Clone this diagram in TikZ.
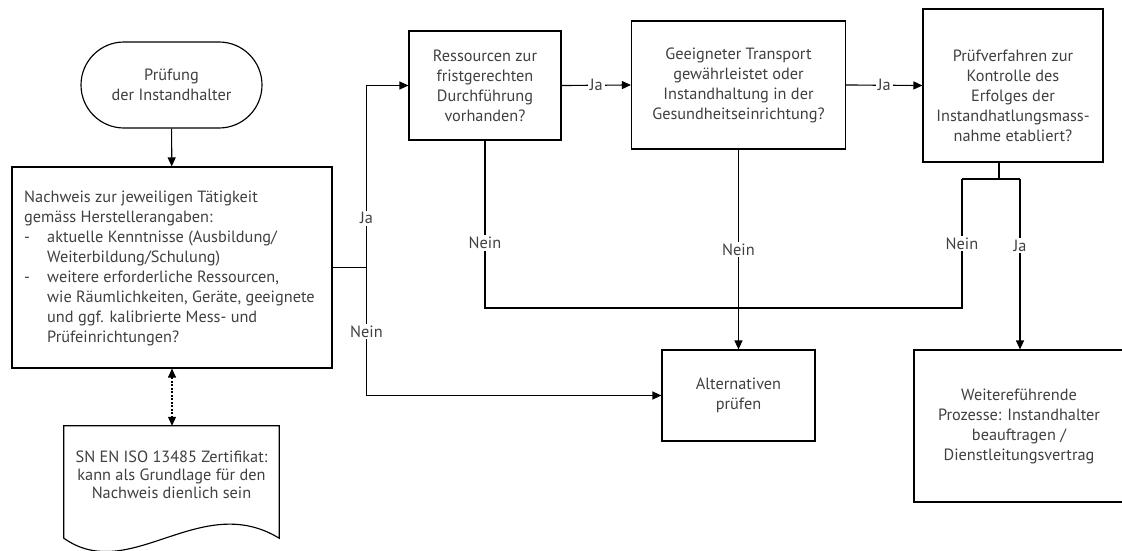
\documentclass[tikz,border=0pt]{standalone}
\usepackage{fontspec}
\setmainfont{PT Sans}
\usetikzlibrary{arrows.meta,calc}
\definecolor{txtc}{HTML}{404040}
\begin{document}
\begin{tikzpicture}[x=1pt,y=-1pt,
  every node/.style={font=\fontsize{16.3}{20}\selectfont, text=txtc},
  box/.style={draw=black, line width=1.15pt, fill=white, inner sep=0pt, align=center},
  plain/.style={inner sep=0pt, align=center},
  ln/.style={line width=1.15pt},
  arr/.style={line width=1.15pt, -{Triangle[length=9pt,width=8pt]}},
  lbl/.style={fill=white, inner sep=2pt}]
\useasboundingbox (0,0) rectangle (1122,551);
\fill[white] (0,0) rectangle (1122,551);

% nodes
\node[box, rounded corners=43pt, minimum width=181pt, minimum height=86pt] (term) at (171.5,85) {Prüfung\\der Instandhalter};
\node[box, minimum width=320pt, minimum height=201pt] (nach) at (172,267.5) {};
\node[plain, align=left, anchor=west] (nacht) at (24,268) {Nachweis zur jeweiligen Tätigkeit\\
gemäss Herstellerangaben:\\
\makebox[23pt][l]{-}aktuelle Kenntnisse (Ausbildung/\\
\hspace*{23pt}Weiterbildung/Schulung)\\
\makebox[23pt][l]{-}weitere erforderliche Ressourcen,\\
\hspace*{23pt}wie Räumlichkeiten, Geräte, geeignete\\
\hspace*{23pt}und ggf. kalibrierte Mess- und\\
\hspace*{23pt}Prüfeinrichtungen?};

\node[plain, minimum width=215pt, minimum height=112pt] (doc) at (171.5,482) {};
\draw[ln, fill=white] (doc.south west) -- (doc.north west) -- (doc.north east) -- (doc.south east)
  .. controls (200,490) and (130,585) .. (doc.south west) -- cycle;
\node[plain, font=\fontsize{16.3}{18}\selectfont] (doct) at (171.5,475) {SN EN ISO 13485 Zertifikat:\\kann als Grundlage für den\\Nachweis dienlich sein};

\node[box, minimum width=152pt, minimum height=109pt] (res) at (485,85.5) {Ressourcen zur\\fristgerechten\\Durchführung\\vorhanden?};
\node[box, minimum width=214pt, minimum height=128pt] (gee) at (738.5,85) {Geeigneter Transport\\gewährleistet oder\\Instandhaltung in der\\Gesundheitseinrichtung?};
\node[box, minimum width=180pt, minimum height=153pt] (pr) at (1013,85.5) {};
\node[plain] (prt) at (1013,96) {Prüfverfahren zur\\Kontrolle des\\Erfolges der\\Instandhatlungsmass-\\nahme etabliert?};
\node[box, minimum width=153pt, minimum height=91pt] (alt) at (738.5,395.5) {Alternativen\\prüfen};
\node[box, minimum width=210pt, minimum height=152pt] (wei) at (1019,426) {Weitereführende\\Prozesse: Instandhalter\\beauftragen /\\Dienstleitungsvertrag};

% helper coordinates
\coordinate (j1) at (366.5,267.5);
\coordinate (bot) at (738.5,308);
\coordinate (sp) at (999,179);
\coordinate (spL) at (962,179);
\coordinate (spR) at (1020,179);

% connectors
\draw[arr] (term) -- (nach);
\draw[line width=1.1pt, dash pattern=on 2pt off 1.5pt, {Triangle[length=9pt,width=8pt]}-{Triangle[length=9pt,width=8pt]}] (nach.south) -- (nach.south |- doc.north);
\draw[ln] (nach.east) -- (j1);
\draw[arr] (j1) -- node[lbl, pos=0.27] {Ja} (j1 |- res.west) -- (res.west);
\draw[arr] (j1) -- node[lbl, pos=0.5] {Nein} (j1 |- alt.west) -- (alt.west);
\draw[arr] (res.east) -- node[lbl] {Ja} (gee.west);
\draw[arr] (gee.east) -- node[lbl] {Ja} (pr.west);
\draw[ln] (res.south) -- node[lbl, pos=0.61] {Nein} (res.south |- bot) -- (bot);
\draw[arr] (gee.south) -- node[lbl] {Nein} (alt.north);
\draw[ln] (sp |- pr.south) -- (sp);
\draw[ln] (spL) -- (spR);
\draw[ln] (spL) -- node[lbl] {Nein} (spL |- bot) -- (bot);
\draw[arr] (spR) -- node[lbl, pos=0.39] {Ja} (spR |- wei.north);
\end{tikzpicture}
\end{document}
